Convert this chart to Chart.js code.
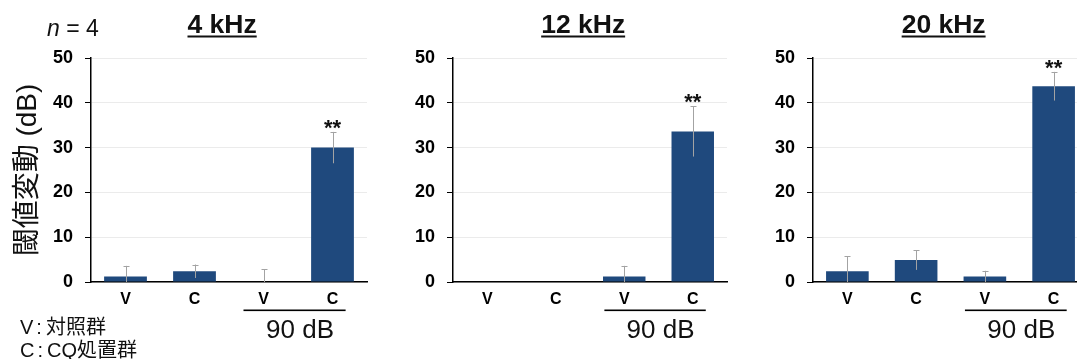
<!DOCTYPE html>
<html>
<head>
<meta charset="utf-8">
<script src="https://cdn.jsdelivr.net/npm/chart.js@4.4.1/dist/chart.umd.min.js"></script>
<style>
html,body{margin:0;padding:0;background:#fff;overflow:hidden;width:1077px;height:359px;}
.panel{position:absolute;top:0;height:359px;}
.note{position:absolute;white-space:nowrap;font-family:"Liberation Sans","Noto Sans CJK JP",sans-serif;color:#111;}
.colon{margin:0 4px 0 3px;}
</style>
</head>
<body>
<div class="panel" style="left:0px;"><canvas id="c1" width="372" height="359"></canvas></div>
<div class="panel" style="left:380px;"><canvas id="c2" width="352" height="359"></canvas></div>
<div class="panel" style="left:740px;"><canvas id="c3" width="353" height="359"></canvas></div>
<div class="note" style="left:47px;top:17px;font-size:23px;line-height:22px;"><i>n</i> = 4</div>
<div class="note" style="left:20px;top:315px;font-size:20px;line-height:24px;">V<span class="colon">:</span>対照群</div>
<div class="note" style="left:20px;top:338px;font-size:20px;line-height:24px;">C<span class="colon">:</span>CQ処置群</div>
<script>
// ---- data ----
const categories = ['V', 'C', 'V', 'C'];
const panelTitles = ['4 kHz', '12 kHz', '20 kHz'];
const yTicks = [0, 10, 20, 30, 40, 50];
const yAxisTitle = '閾値変動 (dB)';
const groupLabel = '90 dB';
const groupStart = 2, groupEnd = 3;

const means4k  = [1.2, 2.4, 0.0, 30.0];
const err4k    = [2.4, 1.5, 2.8, 3.5];
const means12k = [0.0, 0.0, 1.2, 33.6];
const err12k   = [0.0, 0.0, 2.4, 5.6];
const means20k = [2.4, 4.9, 1.2, 43.7];
const err20k   = [3.3, 2.2, 1.3, 3.2];
const signif4k  = ['', '', '', '**'];
const signif12k = ['', '', '', '**'];
const signif20k = ['', '', '', '**'];

// ---- styling ----
const FONT = '"Liberation Sans", Arial, sans-serif';
Chart.defaults.font.family = FONT;
const barColor = '#1f497d';
const errColor = '#a3a3a3';

const overlayPlugin = {
  id: 'overlay',
  afterDatasetsDraw(chart, args, o) {
    const ctx = chart.ctx;
    const ys = chart.scales.y, xs = chart.scales.x;
    const meta = chart.getDatasetMeta(0);
    const area = chart.chartArea;
    const means = chart.data.datasets[0].data;
    ctx.save();
    // error bars
    ctx.beginPath();
    ctx.rect(area.left, area.top - 30, area.right - area.left, area.bottom - area.top + 30);
    ctx.clip();
    ctx.strokeStyle = errColor;
    ctx.lineWidth = 1;
    means.forEach((m, i) => {
      const e = o.errors[i];
      if (!e) return;
      const x = Math.round(meta.data[i].x) + 0.5;
      const yt = ys.getPixelForValue(m + e);
      const yb = ys.getPixelForValue(Math.max(m - e, 0));
      ctx.beginPath();
      ctx.moveTo(x, yb); ctx.lineTo(x, yt);
      ctx.moveTo(x - 3, Math.round(yt) + 0.5); ctx.lineTo(x + 3, Math.round(yt) + 0.5);
      ctx.stroke();
    });
    ctx.restore();
    ctx.save();
    // significance marks
    ctx.fillStyle = '#111';
    ctx.font = 'bold 22px ' + FONT;
    ctx.textAlign = 'center';
    ctx.textBaseline = 'alphabetic';
    means.forEach((m, i) => {
      const s = o.signif[i];
      if (!s) return;
      const yt = ys.getPixelForValue(m + o.errors[i]);
      ctx.fillText(s, meta.data[i].x, yt + 3);
    });
    // panel title, underlined
    const tx = area.left + 0.475 * (area.right - area.left);
    ctx.font = 'bold 26.5px ' + FONT;
    ctx.fillText(o.title, tx, 33);
    const tw = ctx.measureText(o.title).width;
    ctx.fillRect(tx - tw / 2, 35.5, tw, 2);
    // group bracket line and label
    const w = xs.getPixelForValue(1) - xs.getPixelForValue(0);
    const x0 = xs.getPixelForValue(groupStart) - 0.29 * w;
    const x1 = xs.getPixelForValue(groupEnd) + 0.19 * w;
    ctx.fillStyle = '#000';
    ctx.fillRect(x0, 309.5, x1 - x0, 1.6);
    ctx.fillStyle = '#111';
    ctx.font = '26px ' + FONT;
    ctx.fillText(groupLabel, (xs.getPixelForValue(groupStart) + xs.getPixelForValue(groupEnd)) / 2 + 2, 338);
    ctx.restore();
  }
};

function makePanel(id, title, means, errors, signif, yWidth, showTitle) {
  return new Chart(document.getElementById(id), {
    type: 'bar',
    data: {
      labels: categories,
      datasets: [{
        data: means,
        backgroundColor: barColor,
        borderWidth: 0,
        barPercentage: 0.62,
        categoryPercentage: 1.0
      }]
    },
    options: {
      responsive: false,
      animation: false,
      devicePixelRatio: 1,
      layout: { padding: { top: 58, bottom: 47, left: 0, right: 5 } },
      plugins: {
        legend: { display: false },
        tooltip: { enabled: false },
        title: { display: false },
        overlay: { title: title, errors: errors, signif: signif }
      },
      scales: {
        x: {
          grid: { display: false, drawTicks: false },
          border: { color: '#000', width: 1.5 },
          ticks: { color: '#000', font: { size: 16, weight: 'bold' }, padding: 8 },
          afterFit: s => { s.height = 30; }
        },
        y: {
          min: 0, max: 50,
          afterBuildTicks: s => { s.ticks = yTicks.map(v => ({ value: v })); },
          ticks: { color: '#000', font: { size: 18, weight: 'bold' }, padding: 12 },
          grid: { color: '#ebebeb', tickColor: '#000', tickLength: 6, lineWidth: 1 },
          border: { color: '#000', width: 1.5 },
          title: {
            display: showTitle,
            text: yAxisTitle,
            color: '#111',
            font: { size: 28, family: '"Liberation Sans","Noto Sans CJK JP",sans-serif' },
            padding: { top: 11, bottom: 0 }
          },
          afterFit: s => { s.width = yWidth; }
        }
      }
    },
    plugins: [overlayPlugin]
  });
}

makePanel('c1', panelTitles[0], means4k, err4k, signif4k, 91, true);
makePanel('c2', panelTitles[1], means12k, err12k, signif12k, 73, false);
makePanel('c3', panelTitles[2], means20k, err20k, signif20k, 73, false);
</script>
</body>
</html>
